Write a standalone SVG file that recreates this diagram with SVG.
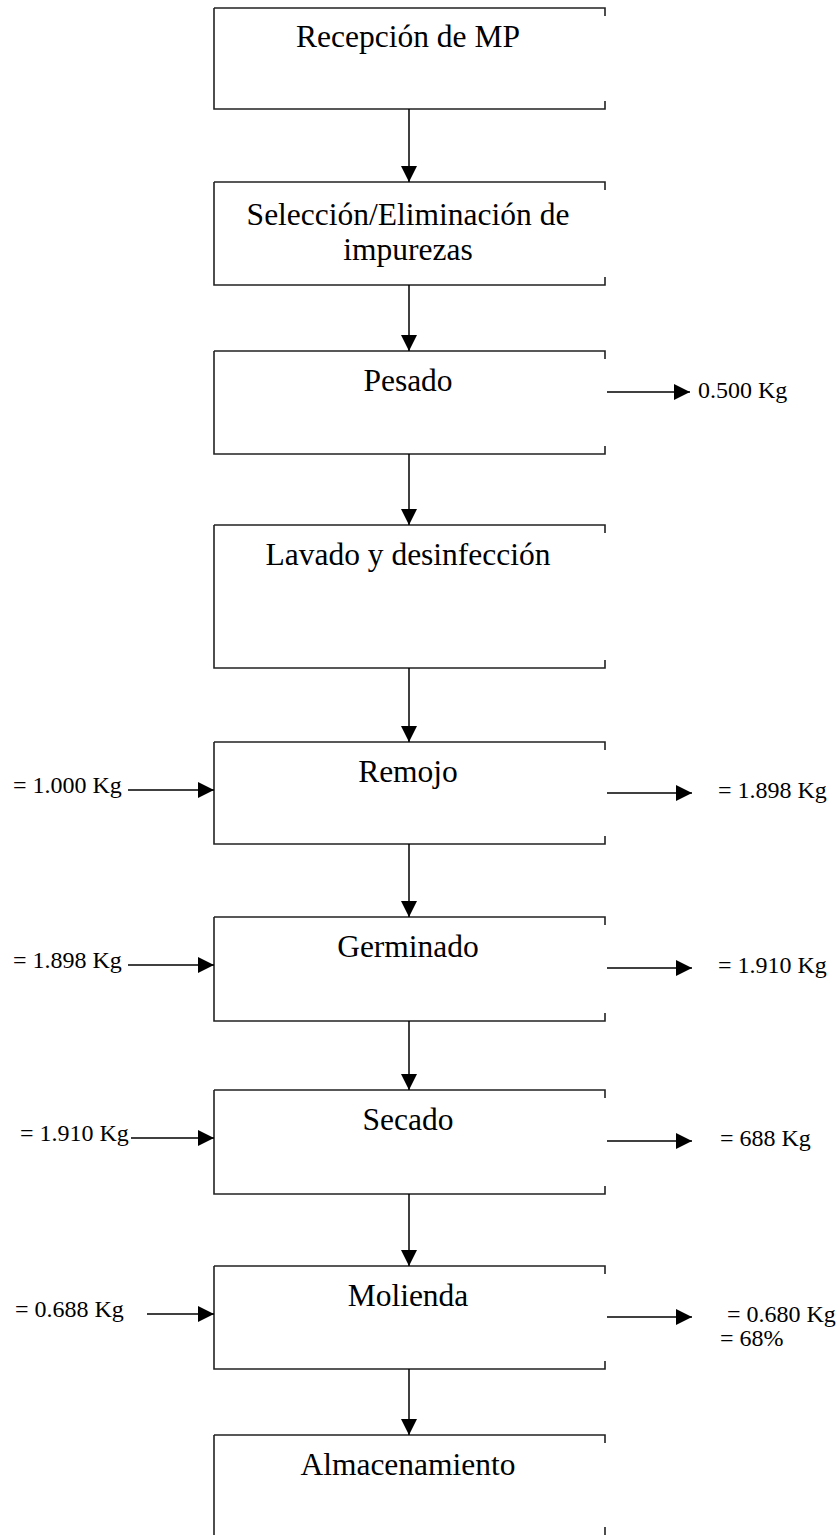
<svg xmlns="http://www.w3.org/2000/svg" width="840" height="1535" viewBox="0 0 840 1535">
<defs>
<marker id="ah" viewBox="0 0 16 16" refX="16" refY="8" markerWidth="16" markerHeight="16" markerUnits="userSpaceOnUse" orient="auto"><path d="M0,0 L16,8 L0,16 Z" fill="#000"/></marker>
<style>
.box{fill:none;stroke:#222;stroke-width:1.6}
.t{font-family:"Liberation Serif",serif;font-size:31.5px;fill:#000;text-anchor:middle}
.l{font-family:"Liberation Serif",serif;font-size:24px;fill:#000}
.c{fill:none;stroke:#000;stroke-width:1.5}
</style>
</defs>
<rect width="840" height="1535" fill="#fff"/>
<g id="n1"><path class="box" d="M214,8 H605 V16 M214,8 V109 H605 V101"/><text class="t" x="408" y="47">Recepción de MP</text></g>
<g id="n2"><path class="box" d="M214,182 H605 V190 M214,182 V285 H605 V277"/><text class="t" x="408" y="225">Selección/Eliminación de</text><text class="t" x="408" y="260">impurezas</text></g>
<g id="n3"><path class="box" d="M214,351 H605 V359 M214,351 V454 H605 V446"/><text class="t" x="408" y="391">Pesado</text></g>
<g id="n4"><path class="box" d="M214,525 H605 V533 M214,525 V668 H605 V660"/><text class="t" x="408" y="565">Lavado y desinfección</text></g>
<g id="n5"><path class="box" d="M214,742 H605 V750 M214,742 V844 H605 V836"/><text class="t" x="408" y="782">Remojo</text></g>
<g id="n6"><path class="box" d="M214,917 H605 V925 M214,917 V1021 H605 V1013"/><text class="t" x="408" y="957">Germinado</text></g>
<g id="n7"><path class="box" d="M214,1090 H605 V1098 M214,1090 V1194 H605 V1186"/><text class="t" x="408" y="1130">Secado</text></g>
<g id="n8"><path class="box" d="M214,1266 H605 V1274 M214,1266 V1369 H605 V1361"/><text class="t" x="408" y="1306">Molienda</text></g>
<g id="n9"><path class="box" d="M214,1435 H605 V1443 M214,1435 V1535 M605,1527 V1535"/><text class="t" x="408" y="1475">Almacenamiento</text></g>
<g id="connectors">
<path class="c" marker-end="url(#ah)" d="M409,109 V182"/>
<path class="c" marker-end="url(#ah)" d="M409,285 V351"/>
<path class="c" marker-end="url(#ah)" d="M409,454 V525"/>
<path class="c" marker-end="url(#ah)" d="M409,668 V742"/>
<path class="c" marker-end="url(#ah)" d="M409,844 V917"/>
<path class="c" marker-end="url(#ah)" d="M409,1021 V1090"/>
<path class="c" marker-end="url(#ah)" d="M409,1194 V1266"/>
<path class="c" marker-end="url(#ah)" d="M409,1369 V1435"/>
<path class="c" marker-end="url(#ah)" d="M607,392 H690"/>
<path class="c" marker-end="url(#ah)" d="M128,790 H214"/>
<path class="c" marker-end="url(#ah)" d="M607,793 H692"/>
<path class="c" marker-end="url(#ah)" d="M128,965 H214"/>
<path class="c" marker-end="url(#ah)" d="M607,968 H692"/>
<path class="c" marker-end="url(#ah)" d="M131,1138 H214"/>
<path class="c" marker-end="url(#ah)" d="M607,1141 H692"/>
<path class="c" marker-end="url(#ah)" d="M147,1314 H214"/>
<path class="c" marker-end="url(#ah)" d="M607,1317 H692"/>
</g>
<g id="labels">
<text class="l" x="698" y="398">0.500 Kg</text>
<text class="l" x="13" y="793">= 1.000 Kg</text>
<text class="l" x="718" y="798">= 1.898 Kg</text>
<text class="l" x="13" y="968">= 1.898 Kg</text>
<text class="l" x="718" y="973">= 1.910 Kg</text>
<text class="l" x="20" y="1141">= 1.910 Kg</text>
<text class="l" x="720" y="1146">= 688 Kg</text>
<text class="l" x="15" y="1317">= 0.688 Kg</text>
<text class="l" x="727" y="1322">= 0.680 Kg</text>
<text class="l" x="720" y="1346">= 68%</text>
</g>
</svg>
